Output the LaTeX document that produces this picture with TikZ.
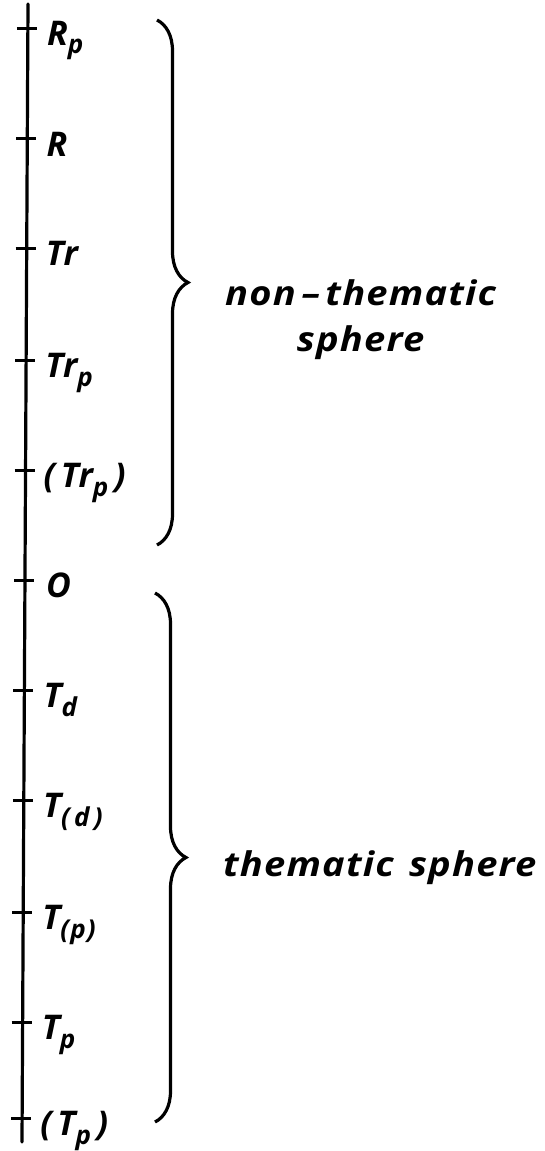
\documentclass[tikz,border=0pt]{standalone}
\usepackage{fontspec}
\setmainfont{Open Sans}
\usetikzlibrary{decorations.pathreplacing, positioning, calc}
% lowered, nearly full-size subscript as printed
\newcommand{\lsub}[1]{\raisebox{-9pt}{\fontsize{26}{26}\selectfont #1}}

\begin{document}
\begin{tikzpicture}[
    x=1pt, y=-1pt,
    axisline/.style={line width=3.2pt, line cap=round},
    tickmark/.style={line width=3pt},
    lbl/.style={anchor=base west, inner sep=0pt, font=\fontsize{34}{36}\selectfont\bfseries\itshape\addfontfeatures{LetterSpace=4}},
    sphrbrace/.style={draw, line width=3.2pt, decorate, decoration={brace, amplitude=31pt}},
    spheretext/.style={inner sep=0pt, font=\fontsize{34}{36}\selectfont\bfseries\itshape\addfontfeatures{FakeStretch=1.12, LetterSpace=3.5}}
]
\useasboundingbox (0,0) rectangle (544,1151);

% Axis (slightly leaning, as printed)
\coordinate (top)    at (28,4);
\coordinate (bottom) at (22,1142);
\draw[axisline] (top) -- (bottom);

% Positions on the axis
\coordinate (rp)    at (27.9,28);
\coordinate (r)     at (27.3,138);
\coordinate (tr)    at (26.7,248);
\coordinate (trp)   at (26.1,360);
\coordinate (trpb)  at (25.5,470);
\coordinate (o)     at (25.0,580);
\coordinate (td)    at (24.4,690);
\coordinate (tdb)   at (23.8,800);
\coordinate (tpb)   at (23.2,912);
\coordinate (tp)    at (22.6,1022);
\coordinate (tpbb)  at (22.1,1118);

% Ticks
\draw[tickmark] ([xshift=-11pt]rp)   -- ([xshift=9pt]rp);
\draw[tickmark] ([xshift=-11pt]r)    -- ([xshift=9pt]r);
\draw[tickmark] ([xshift=-11pt]tr)   -- ([xshift=9pt]tr);
\draw[tickmark] ([xshift=-11pt]trp)  -- ([xshift=9pt]trp);
\draw[tickmark] ([xshift=-11pt]trpb) -- ([xshift=9pt]trpb);
\draw[tickmark] ([xshift=-11pt]o)    -- ([xshift=9pt]o);
\draw[tickmark] ([xshift=-11pt]td)   -- ([xshift=9pt]td);
\draw[tickmark] ([xshift=-11pt]tdb)  -- ([xshift=9pt]tdb);
\draw[tickmark] ([xshift=-11pt]tpb)  -- ([xshift=9pt]tpb);
\draw[tickmark] ([xshift=-11pt]tp)   -- ([xshift=9pt]tp);
\draw[tickmark] ([xshift=-11pt]tpbb) -- ([xshift=9pt]tpbb);

% Labels
\node[lbl] (lrp)   at ($(rp)+(19,17)$)   {R\lsub{p}};
\node[lbl] (lr)    at ($(r)+(19,18)$)    {R};
\node[lbl] (ltr)   at ($(tr)+(19,17)$)   {Tr};
\node[lbl] (ltrp)  at ($(trp)+(19,17)$)  {Tr\lsub{p}};
\node[lbl] (ltrpb) at ($(trpb)+(18,17)$) {(\,Tr\lsub{p}\,)};
\node[lbl] (lo)    at ($(o)+(21,17)$)    {O};
\node[lbl] (ltd)   at ($(td)+(19,17)$)   {T\lsub{d}};
\node[lbl] (ltdb)  at ($(tdb)+(19,17)$)  {T\lsub{(\,d\,)}};
\node[lbl] (ltpb)  at ($(tpb)+(19,17)$)  {T\lsub{(p)}};
\node[lbl] (ltp)   at ($(tp)+(19,17)$)   {T\lsub{p}};
\node[lbl] (ltpbb) at ($(tpbb)+(18,17)$) {(\,T\lsub{p}\,)};

% Braces
\coordinate (ntop) at (157,20);
\coordinate (nbot) at (157,545);
\coordinate (ttop) at (155,593);
\coordinate (tbot) at (155,1122);
\draw[sphrbrace] (ntop) -- (nbot);
\draw[sphrbrace] (ttop) -- (tbot);

% Sphere names
\node[spheretext, anchor=base west] (nonthem) at (225,305) {non\,--\,thematic};
\node[spheretext, anchor=base] (nonsph) at ([yshift=-46pt]nonthem.base) {sphere};
\node[spheretext, anchor=base west] (them) at (223,876) {thematic\hspace{0.45em}sphere};

\end{tikzpicture}
\end{document}
